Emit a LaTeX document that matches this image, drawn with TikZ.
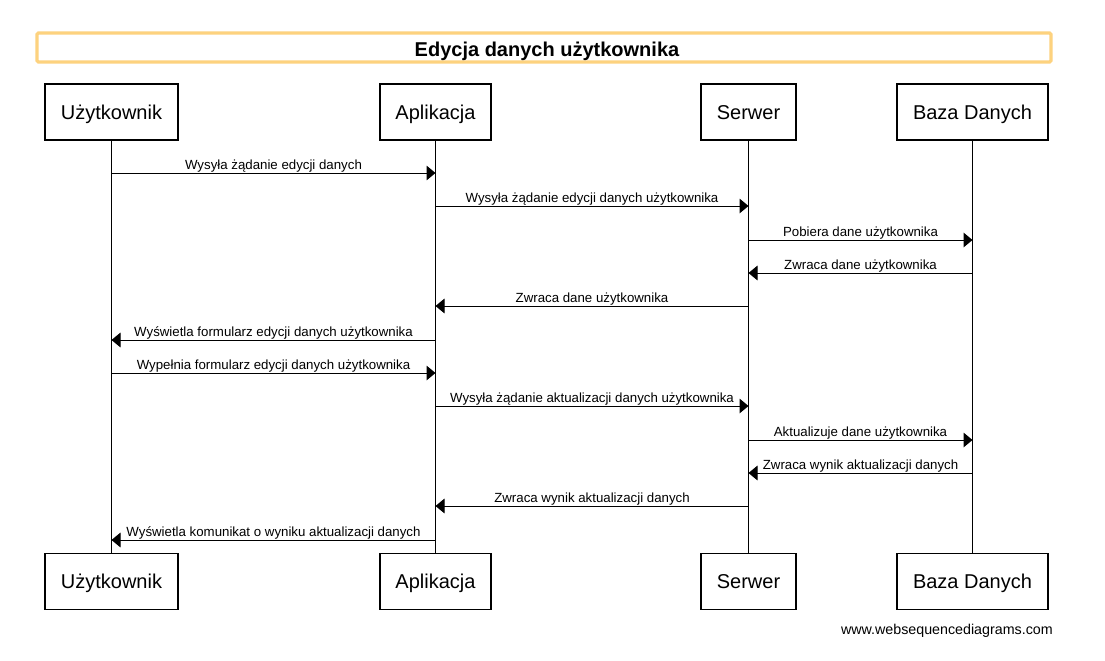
\documentclass[tikz,border=0pt]{standalone}
\usepackage{fontspec}
\setmainfont{Liberation Sans}
\usetikzlibrary{arrows.meta}
\definecolor{titleor}{HTML}{FDD27E}
\begin{document}
\begin{tikzpicture}[x=0.75pt,y=-0.75pt,
  actor/.style={draw, line width=0.8pt, minimum height=42pt, inner sep=0pt,
    text height=14pt, text depth=3pt, font=\fontsize{15}{18}\selectfont},
  msg/.style={line width=0.75pt, -{Triangle[length=6.75pt,width=11pt]}},
  lbl/.style={font=\fontsize{9.95}{11}\selectfont, inner sep=0pt, anchor=base, yshift=2.8pt},
  life/.style={line width=0.75pt}]
\useasboundingbox[fill=white] (0,0) rectangle (1105,660);
% title
\node[draw=titleor, line width=2.4pt, rounded corners=1pt, minimum width=760.5pt, minimum height=21.75pt, inner sep=0pt] (titlebox) at (544,47.5) {};
\node[font=\bfseries\fontsize{15}{18}\selectfont, anchor=base] (title) at (547,56) {Edycja danych użytkownika};
% participants top
\node[actor, minimum width=99.75pt] (u1) at (111.5,112) {Użytkownik};
\node[actor, minimum width=83.25pt] (a1) at (435.5,112) {Aplikacja};
\node[actor, minimum width=71.25pt] (s1) at (748.5,112) {Serwer};
\node[actor, minimum width=113.25pt] (b1) at (972.5,112) {Baza Danych};
% participants bottom
\node[actor, minimum width=99.75pt] (u2) at (111.5,581.5) {Użytkownik};
\node[actor, minimum width=83.25pt] (a2) at (435.5,581.5) {Aplikacja};
\node[actor, minimum width=71.25pt] (s2) at (748.5,581.5) {Serwer};
\node[actor, minimum width=113.25pt] (b2) at (972.5,581.5) {Baza Danych};
% lifelines
\draw[life] (u1.south) -- (u2.north);
\draw[life] (a1.south) -- (a2.north);
\draw[life] (s1.south) -- (s2.north);
\draw[life] (b1.south) -- (b2.north);
% messages
\draw[msg] (u1.south |- 0,173) -- node[lbl] {Wysyła żądanie edycji danych} (a1.south |- 0,173);
\draw[msg] (a1.south |- 0,206) -- node[lbl] {Wysyła żądanie edycji danych użytkownika} (s1.south |- 0,206);
\draw[msg] (s1.south |- 0,240) -- node[lbl] {Pobiera dane użytkownika} (b1.south |- 0,240);
\draw[msg] (b1.south |- 0,273) -- node[lbl] {Zwraca dane użytkownika} (s1.south |- 0,273);
\draw[msg] (s1.south |- 0,306) -- node[lbl] {Zwraca dane użytkownika} (a1.south |- 0,306);
\draw[msg] (a1.south |- 0,340) -- node[lbl] {Wyświetla formularz edycji danych użytkownika} (u1.south |- 0,340);
\draw[msg] (u1.south |- 0,373) -- node[lbl] {Wypełnia formularz edycji danych użytkownika} (a1.south |- 0,373);
\draw[msg] (a1.south |- 0,406) -- node[lbl] {Wysyła żądanie aktualizacji danych użytkownika} (s1.south |- 0,406);
\draw[msg] (s1.south |- 0,440) -- node[lbl] {Aktualizuje dane użytkownika} (b1.south |- 0,440);
\draw[msg] (b1.south |- 0,473) -- node[lbl] {Zwraca wynik aktualizacji danych} (s1.south |- 0,473);
\draw[msg] (s1.south |- 0,506) -- node[lbl] {Zwraca wynik aktualizacji danych} (a1.south |- 0,506);
\draw[msg] (a1.south |- 0,540) -- node[lbl] {Wyświetla komunikat o wyniku aktualizacji danych} (u1.south |- 0,540);
% footer
\node[font=\fontsize{10.7}{12}\selectfont, anchor=base east, inner sep=0pt] (wsd) at (1053,634) {www.websequencediagrams.com};
\end{tikzpicture}
\end{document}
